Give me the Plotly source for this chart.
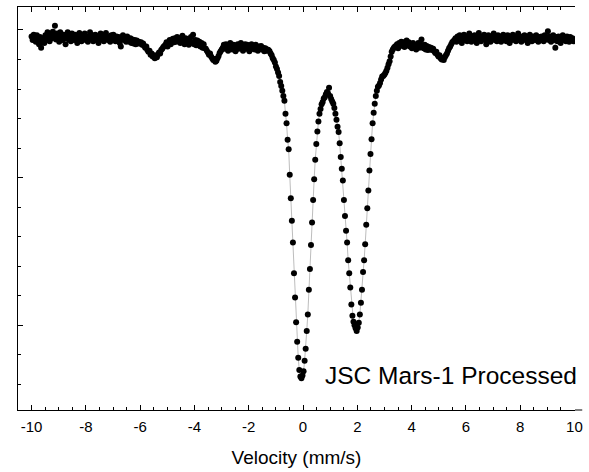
import numpy as np
import plotly.graph_objects as go

# transmission (%) per channel, channels run -10 .. +10 mm/s
left_wing = [
    99.89, 99.83, 99.92, 99.86, 99.80, 99.91, 99.84, 99.76, 99.88, 99.70,
    99.81, 99.86, 99.78, 99.91, 99.83, 99.96, 99.88, 99.81, 99.92, 99.86,
    99.97, 99.89, 100.07, 99.84, 99.94, 99.88, 99.80, 99.96, 99.89, 99.83,
    99.92, 99.86, 99.76, 99.91, 99.96, 99.84, 99.89, 99.81, 99.94, 99.88,
    99.83, 99.92, 99.86, 99.78, 99.89, 99.95, 99.84, 99.81, 99.91, 99.86,
    99.94, 99.83, 99.89, 99.80, 99.88, 99.96, 99.84, 99.91, 99.81, 99.86,
    99.92, 99.83, 99.89, 99.78, 99.88, 99.94, 99.84, 99.91, 99.81, 99.86,
    99.95, 99.89, 99.83, 99.88, 99.80, 99.91, 99.84, 99.92, 99.86, 99.81,
    99.89, 99.83, 99.88, 99.78, 99.72, 99.86, 99.91, 99.83, 99.88, 99.80,
    99.89, 99.85, 99.80, 99.86, 99.78, 99.84, 99.77, 99.83, 99.76, 99.82,
    99.77,
    99.80, 99.77, 99.79, 99.75, 99.77, 99.73, 99.70, 99.72, 99.66, 99.63,
    99.65, 99.58, 99.60, 99.55, 99.57, 99.52, 99.56, 99.54, 99.59, 99.62,
    99.60, 99.66, 99.68, 99.71, 99.73,
    99.75, 99.79, 99.72, 99.78, 99.83, 99.76, 99.80, 99.85, 99.79, 99.86,
    99.80, 99.88, 99.81, 99.86, 99.78, 99.85, 99.90, 99.81, 99.76, 99.86,
    99.80, 99.84, 99.75, 99.81, 99.88, 99.78, 99.92, 99.76, 99.83, 99.74,
    99.82, 99.74, 99.80, 99.72, 99.78, 99.70, 99.76, 99.69,
    99.68, 99.65, 99.62, 99.58, 99.60, 99.55, 99.52, 99.49, 99.51, 99.46,
    99.48, 99.52, 99.56, 99.61, 99.64, 99.67, 99.70,
    99.75, 99.68, 99.76, 99.72, 99.65, 99.73, 99.78, 99.70, 99.67, 99.75,
    99.72, 99.64, 99.73, 99.76, 99.68, 99.72, 99.78, 99.70, 99.65, 99.73,
    99.76, 99.68, 99.75, 99.70, 99.64, 99.72, 99.76, 99.68, 99.73, 99.67,
    99.75, 99.70, 99.65, 99.72, 99.68, 99.73, 99.67, 99.70, 99.64, 99.69,
    99.65, 99.67, 99.66,
]

doublet = [
    99.64, 99.60, 99.57, 99.52, 99.49, 99.45, 99.38, 99.34, 99.28, 99.22,
    99.12, 99.05, 98.97, 98.88, 98.80, 98.58, 98.42, 98.14, 97.98, 97.55,
    97.15, 96.77, 96.40, 95.88, 95.47, 95.05, 94.72, 94.45, 94.24, 94.13,
    94.10, 94.15, 94.22, 94.40, 94.60, 94.90, 95.18, 95.60, 95.95, 96.36,
    96.74, 97.12, 97.47, 97.80, 98.07, 98.28, 98.45, 98.58, 98.66, 98.74,
    98.78, 98.84, 98.86, 98.91, 98.95, 98.93, 99.02, 98.88, 98.83, 98.79,
    98.75, 98.68, 98.58, 98.48, 98.36, 98.27, 98.08, 97.85, 97.65, 97.45,
    97.12, 96.85, 96.60, 96.40, 96.10, 95.88, 95.64, 95.35, 95.16, 95.06,
    95.00, 94.95, 94.90, 94.96, 95.04, 95.18, 95.38, 95.60, 95.90, 96.10,
    96.37, 96.70, 96.98, 97.28, 97.62, 97.90, 98.15, 98.42, 98.60, 98.75,
    98.88, 98.97, 99.04, 99.06, 99.10, 99.16, 99.21, 99.22, 99.24, 99.27,
    99.31, 99.36, 99.42, 99.47, 99.55, 99.63, 99.67, 99.70, 99.72, 99.73,
]

right_wing = [
    99.76, 99.69, 99.78, 99.73, 99.80, 99.74, 99.79, 99.71, 99.78, 99.82,
    99.74, 99.79, 99.72, 99.76, 99.69, 99.78, 99.71, 99.74, 99.67, 99.73,
    99.78, 99.70, 99.76, 99.84, 99.72, 99.69, 99.75, 99.67, 99.73, 99.66,
    99.71, 99.67, 99.70, 99.66, 99.68, 99.64, 99.61, 99.63, 99.58, 99.55,
    99.57, 99.52, 99.50, 99.53, 99.49, 99.54, 99.57, 99.60, 99.65, 99.69,
    99.72, 99.76, 99.79, 99.81, 99.83,
    99.86, 99.80, 99.89, 99.83, 99.91, 99.84, 99.78, 99.88, 99.92, 99.83,
    99.89, 99.81, 99.86, 99.94, 99.84, 99.80, 99.89, 99.83, 99.91, 99.86,
    99.78, 99.88, 99.95, 99.84, 99.81, 99.89, 99.86, 99.92, 99.83, 99.76,
    99.88, 99.91, 99.84, 99.80, 99.89, 99.86, 99.94, 99.83, 99.88, 99.81,
    99.91, 99.84, 99.89, 99.80, 99.86, 99.92, 99.83, 99.88, 99.81, 99.91,
    99.86, 99.78, 99.88, 99.83, 99.92, 99.84, 99.89, 99.81, 99.86, 99.94,
    99.83, 99.88, 99.80, 99.89, 99.84, 99.91, 99.83, 99.86, 99.78, 99.88,
    99.92, 99.84, 99.81, 99.89, 99.86, 99.83, 99.91, 99.84, 99.80, 99.88,
    99.83, 99.89, 99.86, 99.81, 99.91, 99.84, 99.88, 99.98, 99.83, 99.89,
    99.80, 99.86, 99.91, 99.83, 99.70, 99.88, 99.81, 99.89, 99.84, 99.78,
    99.86, 99.91, 99.83, 99.88, 99.81, 99.89, 99.84, 99.80, 99.88, 99.83,
    99.86, 99.81, 99.84,
]

transmission = left_wing + doublet + right_wing
velocity = np.linspace(-10, 10, len(transmission))

x_tickvals = [-10, -8, -6, -4, -2, 0, 2, 4, 6, 8, 10]
x_ticktext = ["-10", "-8", "-6", "-4", "-2", "0", "2", "4", "6", "8", "10"]

FONT = "Liberation Sans, Arial, sans-serif"

fig = go.Figure()

# thin grey fit-like line under the points
fig.add_trace(go.Scatter(x=velocity, y=transmission, mode="lines",
                         line=dict(color="#bdbdbd", width=1), hoverinfo="skip"))
fig.add_trace(go.Scatter(x=velocity, y=transmission, mode="markers",
                         marker=dict(color="black", size=6)))

fig.add_annotation(x=0.72, y=94.14, text="JSC Mars-1 Processed", showarrow=False,
                   xanchor="left", yanchor="middle",
                   font=dict(family=FONT, size=24.5, color="black"))

fig.update_layout(
    width=589, height=472,
    margin=dict(l=18, r=7, t=6, b=62),
    paper_bgcolor="white", plot_bgcolor="white",
    showlegend=False,
    font=dict(family=FONT, color="black"),
)

fig.update_xaxes(
    range=[-10.5, 10.02],
    tickmode="array", tickvals=x_tickvals, ticktext=x_ticktext,
    ticks="inside", ticklen=5, tickwidth=1, tickcolor="black",
    minor=dict(dtick=0.5, tick0=0, ticks="inside", ticklen=3, tickcolor="black"),
    showline=True, linecolor="black", linewidth=1, mirror="ticks",
    showgrid=False, zeroline=False,
    tickfont=dict(size=15), ticklabeloverflow="allow", ticklabelstandoff=3,
    title=dict(text="Velocity (mm/s)", font=dict(size=19), standoff=16),
)

fig.update_yaxes(
    range=[93.564, 100.389],
    dtick=2.5, tick0=95,
    ticks="inside", ticklen=5, tickwidth=1, tickcolor="black",
    minor=dict(dtick=0.5, tick0=95, ticks="inside", ticklen=3, tickcolor="black"),
    showline=True, linecolor="black", linewidth=1, mirror=False,
    showticklabels=False, showgrid=False, zeroline=False,
)

# bottom axis line runs a little past the right end in the original
fig.add_shape(type="line", xref="paper", yref="paper", x0=1, x1=1.013, y0=0, y1=0,
              line=dict(color="black", width=1))

fig.write_html("out.html", config={"displayModeBar": False},
               post_script="document.body.style.margin='0';")
